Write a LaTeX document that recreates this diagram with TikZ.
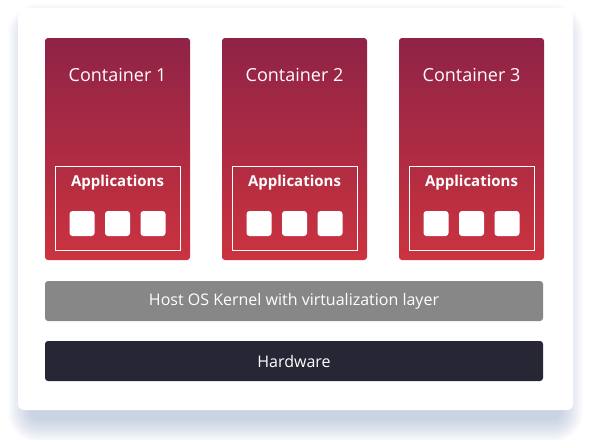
\documentclass[tikz,border=0pt]{standalone}
\usepackage{fontspec}
\setmainfont{Open Sans}
\definecolor{shadowc}{RGB}{134,154,193}
\definecolor{ctop}{RGB}{143,35,70}
\definecolor{cbot}{RGB}{203,51,63}
\definecolor{kernelc}{RGB}{135,135,135}
\definecolor{hwc}{RGB}{39,38,53}
\tikzset{
  card/.style={fill=white, rounded corners=6pt},
  container/.style={rectangle, rounded corners=3pt, inner sep=0pt, minimum width=145pt, minimum height=222pt, top color=ctop, bottom color=cbot, draw=none},
  ctitle/.style={text=white, font=\fontsize{18}{21}\selectfont, inner sep=0pt},
  appbox/.style={rectangle, draw=white, line width=0.8pt, inner sep=0pt, minimum width=125pt, minimum height=84pt},
  applabel/.style={text=white, font=\fontsize{15}{18}\selectfont\bfseries, inner sep=0pt},
  appsq/.style={rectangle, fill=white, rounded corners=3pt, inner sep=0pt, minimum size=25pt},
  bar/.style={rectangle, rounded corners=3pt, inner sep=0pt, minimum width=498pt, minimum height=40pt, text=white, font=\fontsize{16}{19}\selectfont}
}
\begin{document}
\begin{tikzpicture}[x=1pt,y=-1pt]
\useasboundingbox (0,0) rectangle (591,439);
% shadow
\foreach \k in {1,...,24} {
  \fill[shadowc, opacity=0.025, rounded corners=6pt+\k pt] ({32-\k},{28-\k}) rectangle ({559+\k},{418+\k});
}
\fill[card] (18,8) rectangle (573,410);
% containers
\foreach \i/\cx in {1/117.5, 2/294.5, 3/471.5} {
  \node[container] (c\i) at (\cx,149) {};
  \node[ctitle] (t\i) at (\cx,75) {Container \i};
  \node[appbox] (app\i) at (\cx,208) {};
  \node[applabel] (al\i) at (\cx,183) {Applications};
  \node[appsq] (s\i a) at ({\cx-35.5},223.5) {};
  \node[appsq] (s\i b) at (\cx,223.5) {};
  \node[appsq] (s\i c) at ({\cx+35.5},223.5) {};
}
\node[bar, fill=kernelc] (kernel) at (294,301) {Host OS Kernel with virtualization layer};
\node[bar, fill=hwc] (hw) at (294,361) {Hardware};
\end{tikzpicture}
\end{document}
